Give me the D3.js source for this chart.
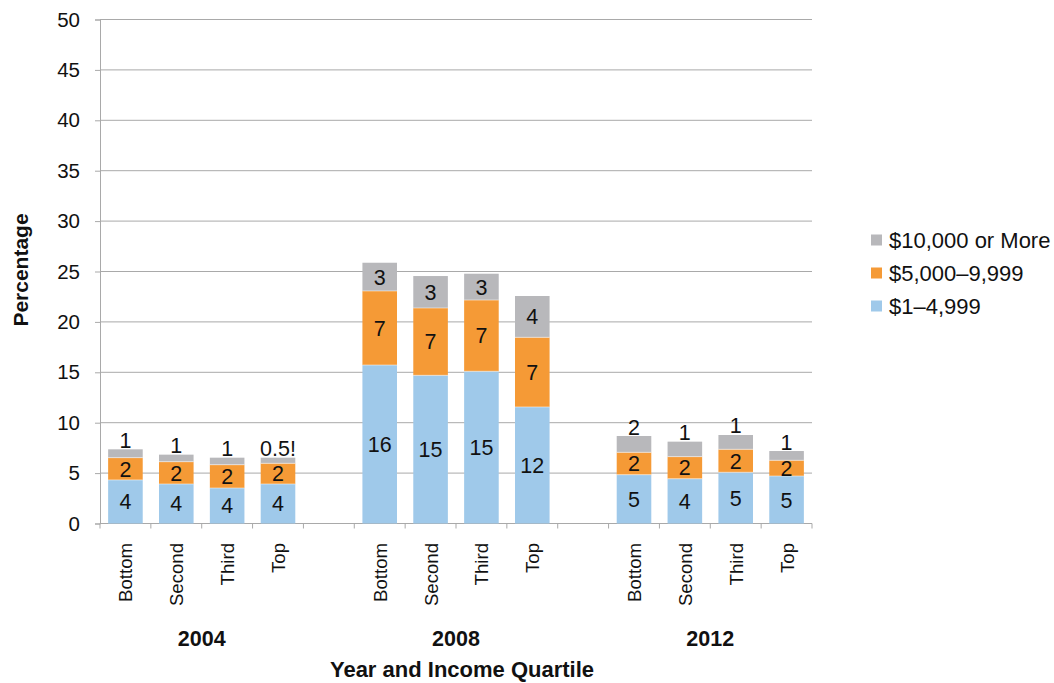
<!DOCTYPE html>
<html><head><meta charset="utf-8">
<script src="https://cdn.jsdelivr.net/npm/d3@7"></script>
<style>body{margin:0;background:#fff;} svg{display:block;font-family:"Liberation Sans",Arial,Helvetica,sans-serif;}</style>
</head><body>
<svg id="chart" width="1054" height="683"></svg>
<script>
const years = ["2004","2008","2012"];
const quartiles = ["Bottom","Second","Third","Top"];
const seriesNames = ["$1–4,999","$5,000–9,999","$10,000 or More"];
const low = [4.32,3.92,3.52,3.92, 15.72,14.70,15.10,11.56, 4.84,4.44,5.08,4.71];
const mid = [2.21,2.21,2.31,2.05, 7.35,6.68,7.07,6.91, 2.22,2.19,2.28,1.56];
const high = [0.83,0.70,0.70,0.56, 2.80,3.17,2.61,4.10, 1.62,1.49,1.42,0.92];
const lowLabels = ["4","4","4","4","16","15","15","12","5","4","5","5"];
const midLabels = ["2","2","2","2","7","7","7","7","2","2","2","2"];
const highLabels = ["1","1","1","0.5!","3","3","3","4","2","1","1","1"];
const yTicks = [0,5,10,15,20,25,30,35,40,45,50];
const colors = ["#9FC9EA","#F59A36","#B8B8BB"];

(function(){
const svg = d3.select("#chart");
const mLeft = 100, mRight = 812, mTop = 19.5, mBottom = 523.5;

const slots = [];
years.forEach((yr,yi)=>{
  quartiles.forEach(q=>slots.push(yr+"|"+q));
  if (yi < years.length-1) slots.push("gap"+yi);
});
const x = d3.scaleBand().domain(slots).range([mLeft,mRight]).paddingInner(0).paddingOuter(0);
const barW = x.bandwidth()*0.68;
const y = d3.scaleLinear().domain([0,50]).range([mBottom,mTop]);

svg.append("g").selectAll("line").data(yTicks.filter(d=>d>0)).join("line")
  .attr("x1",mLeft).attr("x2",mRight).attr("y1",d=>y(d)).attr("y2",d=>y(d))
  .attr("stroke","#A9A9A9").attr("stroke-width",1);

const yAxis = svg.append("g").attr("transform",`translate(${mLeft},0)`)
  .call(d3.axisLeft(y).tickValues(yTicks).tickSize(5).tickPadding(15));
yAxis.select(".domain").attr("stroke","#A9A9A9");
yAxis.selectAll(".tick line").attr("stroke","#A9A9A9");
yAxis.selectAll("text").attr("font-size",20.5).attr("fill","#111").attr("font-family","Liberation Sans, Arial, sans-serif");

const xg = svg.append("g");
xg.append("line").attr("x1",mLeft).attr("x2",mRight).attr("y1",mBottom).attr("y2",mBottom).attr("stroke","#A9A9A9");
const bounds = slots.map(s=>x(s)).concat([mRight]);
xg.selectAll("line.t").data(bounds).join("line").attr("class","t")
  .attr("x1",d=>d).attr("x2",d=>d).attr("y1",mBottom).attr("y2",mBottom+5).attr("stroke","#A9A9A9");

const rows = [];
years.forEach((yr,yi)=>quartiles.forEach((q,qi)=>{
  const i = yi*4+qi;
  rows.push({key:yr+"|"+q, q, vals:[low[i],mid[i],high[i]], labels:[lowLabels[i],midLabels[i],highLabels[i]]});
}));

const barsG = svg.append("g");
rows.forEach(r=>{
  let cum = 0;
  const cx = x(r.key)+x.bandwidth()/2;
  r.vals.forEach((v,si)=>{
    const y0 = y(cum), y1 = y(cum+v);
    barsG.append("rect").attr("x",cx-barW/2).attr("width",barW)
      .attr("y",y1).attr("height",y0-y1).attr("fill",colors[si]);
    cum += v;
  });
});
rows.forEach(r=>{
  const cx = x(r.key)+x.bandwidth()/2;
  let cum = 0;
  r.vals.forEach((v,si)=>{
    cum += v;
    if (si < 2) barsG.append("line").attr("x1",cx-barW/2).attr("x2",cx+barW/2)
      .attr("y1",y(cum)).attr("y2",y(cum)).attr("stroke","#fff").attr("stroke-opacity",0.5).attr("stroke-width",1);
  });
});

const labG = svg.append("g").attr("font-size",21.5).attr("fill","#111").attr("text-anchor","middle");
rows.forEach(r=>{
  const cx = x(r.key)+x.bandwidth()/2;
  let cum = 0;
  r.vals.forEach((v,si)=>{
    const y0 = y(cum), y1 = y(cum+v);
    cum += v;
    const h = y0-y1;
    if (si === 2 && h < 20) {
      labG.append("text").attr("x",cx).attr("y",y1-1.5).text(r.labels[si]);
    } else {
      labG.append("text").attr("x",cx).attr("y",(y0+y1)/2).attr("dy","0.36em").text(r.labels[si]);
    }
  });
});

svg.append("g").selectAll("text").data(rows).join("text")
  .attr("transform",d=>`translate(${x(d.key)+x.bandwidth()/2+7},${mBottom+19.5}) rotate(-90)`)
  .attr("text-anchor","end").attr("font-size",18.6).attr("fill","#111").text(d=>d.q);

svg.append("g").selectAll("text").data(years).join("text")
  .attr("x",d=>(x(d+"|Bottom")+x(d+"|Top")+x.bandwidth())/2)
  .attr("y",646).attr("text-anchor","middle").attr("font-size",21.5).attr("font-weight","bold")
  .attr("fill","#111").text(d=>d);

svg.append("text").attr("x",462).attr("y",677).attr("text-anchor","middle")
  .attr("font-size",22).attr("font-weight","bold").attr("fill","#111")
  .text("Year and Income Quartile");

svg.append("text").attr("transform","translate(28,270) rotate(-90)").attr("text-anchor","middle")
  .attr("font-size",21).attr("font-weight","bold").attr("fill","#111").text("Percentage");

const legOrder = [2,1,0];
const leg = svg.append("g");
legOrder.forEach((si,k)=>{
  const ly = 240 + k*33;
  leg.append("rect").attr("x",871).attr("y",ly-5.5).attr("width",11).attr("height",11).attr("fill",colors[si]);
  leg.append("text").attr("x",889).attr("y",ly).attr("dy","0.36em").attr("font-size",22).attr("fill","#111").text(seriesNames[si]);
});
})();
</script>
</body></html>
